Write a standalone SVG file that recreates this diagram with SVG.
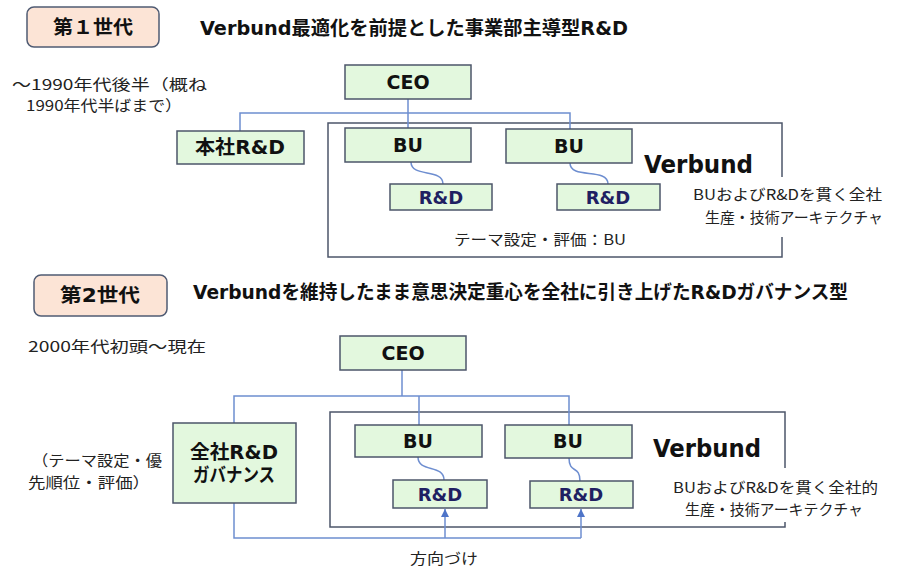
<svg xmlns="http://www.w3.org/2000/svg" width="898" height="571" viewBox="0 0 898 571">
<style>
.node{fill:#E3F8DE;stroke:#4C566A;stroke-width:1.5}
.badge{fill:#FCE4D6;stroke:#4F5B73;stroke-width:1.5}
.frame{fill:none;stroke:#4C566A;stroke-width:1.5}
.lbl{font-family:"DejaVu Sans","Noto Sans CJK JP",sans-serif;font-weight:bold;font-size:19px;fill:#111;text-anchor:middle}
.rd{fill:#1F2062;font-size:18px}
.ttl{font-family:"DejaVu Sans","Noto Sans CJK JP",sans-serif;font-weight:bold;font-size:19px;fill:#111}
.vb{font-family:"DejaVu Sans",sans-serif;font-weight:bold;font-size:24px;fill:#111}
.txt{font-family:"Noto Sans CJK JP",sans-serif;font-size:15px;fill:#222}
.con{fill:none;stroke:#6E8ED0;stroke-width:1.5}
</style>
<defs>
<marker id="ah" viewBox="0 0 10 10" refX="10" refY="5" markerWidth="8" markerHeight="8" markerUnits="userSpaceOnUse" orient="auto">
<path d="M0,0 L10,5 L0,10 z" fill="#4E74C8"/>
</marker>
<clipPath id="c1"><rect x="0" y="0" width="884" height="571"/></clipPath>
</defs>

<!-- Section 1 -->
<g id="badge1"><rect class="badge" x="27" y="7" width="132" height="40" rx="7"/><text class="ttl" x="93" y="34" text-anchor="middle" textLength="80" lengthAdjust="spacingAndGlyphs">第１世代</text></g>
<text class="ttl" x="200" y="35" textLength="428" lengthAdjust="spacingAndGlyphs">Verbund最適化を前提とした事業部主導型R&amp;D</text>
<text class="txt" x="12" y="90" textLength="195" lengthAdjust="spacingAndGlyphs">～1990年代後半（概ね</text>
<text class="txt" x="26" y="111" textLength="156" lengthAdjust="spacingAndGlyphs">1990年代半ばまで）</text>

<g id="verbund1">
<rect class="frame" x="328" y="123" width="454" height="134"/>
<rect x="688" y="177" width="210" height="60" fill="#fff"/>
<text class="vb" x="644" y="173" textLength="109" lengthAdjust="spacingAndGlyphs">Verbund</text>
<text class="txt" x="454" y="245" textLength="172" lengthAdjust="spacingAndGlyphs">テーマ設定・評価：BU</text>
<g clip-path="url(#c1)">
<text class="txt" x="693" y="200" textLength="189" lengthAdjust="spacingAndGlyphs">BUおよびR&amp;Dを貫く全社</text>
<text class="txt" x="705" y="223" textLength="178" lengthAdjust="spacingAndGlyphs">生産・技術アーキテクチャ</text>
</g>
</g>

<g id="connectors1">
<path class="con" d="M408,99 V128"/>
<path class="con" d="M240,131 V113 H570 V129"/>
<path class="con" d="M411,162 C411,178 443,168 443,184"/>
<path class="con" d="M570,163 C570,180 608,167 608,184"/>
</g>

<g id="ceo1"><rect class="node" x="345" y="65" width="126" height="34"/><text class="lbl" x="408" y="89">CEO</text></g>
<g id="hq1"><rect class="node" x="177" y="131" width="127" height="33"/><text class="lbl" x="240" y="154" textLength="90" lengthAdjust="spacingAndGlyphs">本社R&amp;D</text></g>
<g id="bu1a"><rect class="node" x="345" y="128" width="126" height="34"/><text class="lbl" x="408" y="152">BU</text></g>
<g id="bu1b"><rect class="node" x="506" y="129" width="126" height="34"/><text class="lbl" x="569" y="153">BU</text></g>
<g id="rd1a"><rect class="node" x="390" y="184" width="102" height="26"/><text class="lbl rd" x="441" y="204">R&amp;D</text></g>
<g id="rd1b"><rect class="node" x="557" y="184" width="103" height="26"/><text class="lbl rd" x="608" y="204">R&amp;D</text></g>

<!-- Section 2 -->
<g id="badge2"><rect class="badge" x="34" y="275" width="133" height="41" rx="7"/><text class="ttl" x="100" y="302" text-anchor="middle" textLength="80" lengthAdjust="spacingAndGlyphs">第2世代</text></g>
<text class="ttl" x="193" y="299" textLength="655" lengthAdjust="spacingAndGlyphs">Verbundを維持したまま意思決定重心を全社に引き上げたR&amp;Dガバナンス型</text>
<text class="txt" x="28" y="352" textLength="178" lengthAdjust="spacingAndGlyphs">2000年代初頭～現在</text>
<text class="txt" x="32" y="466" textLength="130" lengthAdjust="spacingAndGlyphs">（テーマ設定・優</text>
<text class="txt" x="28" y="488" textLength="122" lengthAdjust="spacingAndGlyphs">先順位・評価）</text>
<text class="txt" x="410" y="564" textLength="68" lengthAdjust="spacingAndGlyphs">方向づけ</text>

<g id="verbund2">
<rect class="frame" x="330" y="412" width="455" height="115"/>
<rect x="665" y="468" width="233" height="54" fill="#fff"/>
<text class="vb" x="653" y="457" textLength="108" lengthAdjust="spacingAndGlyphs">Verbund</text>
<text class="txt" x="673" y="493" textLength="205" lengthAdjust="spacingAndGlyphs">BUおよびR&amp;Dを貫く全社的</text>
<text class="txt" x="685" y="515" textLength="178" lengthAdjust="spacingAndGlyphs">生産・技術アーキテクチャ</text>
</g>

<g id="connectors2">
<path class="con" d="M402,370 V396"/>
<path class="con" d="M234,423 V396 H569 V425"/>
<path class="con" d="M419,396 V425"/>
<path class="con" d="M418,457 C418,473 444,464 444,480"/>
<path class="con" d="M569,458 C569,474 580,465 580,481"/>
<path class="con" d="M234,503 V538 H581"/>
<path class="con" d="M445,538 V509" marker-end="url(#ah)"/>
<path class="con" d="M581,538 V509" marker-end="url(#ah)"/>
</g>

<g id="ceo2"><rect class="node" x="340" y="336" width="126" height="34"/><text class="lbl" x="403" y="360">CEO</text></g>
<g id="gov2"><rect class="node" x="173" y="423" width="123" height="80"/><text class="lbl" x="234" y="459" textLength="88" lengthAdjust="spacingAndGlyphs">全社R&amp;D</text><text class="lbl" x="234" y="482" textLength="82" lengthAdjust="spacingAndGlyphs">ガバナンス</text></g>
<g id="bu2a"><rect class="node" x="355" y="425" width="127" height="32"/><text class="lbl" x="418" y="448">BU</text></g>
<g id="bu2b"><rect class="node" x="505" y="425" width="127" height="33"/><text class="lbl" x="568" y="448">BU</text></g>
<g id="rd2a"><rect class="node" x="393" y="480" width="94" height="28"/><text class="lbl rd" x="440" y="501">R&amp;D</text></g>
<g id="rd2b"><rect class="node" x="530" y="481" width="103" height="27"/><text class="lbl rd" x="581" y="501">R&amp;D</text></g>
</svg>
